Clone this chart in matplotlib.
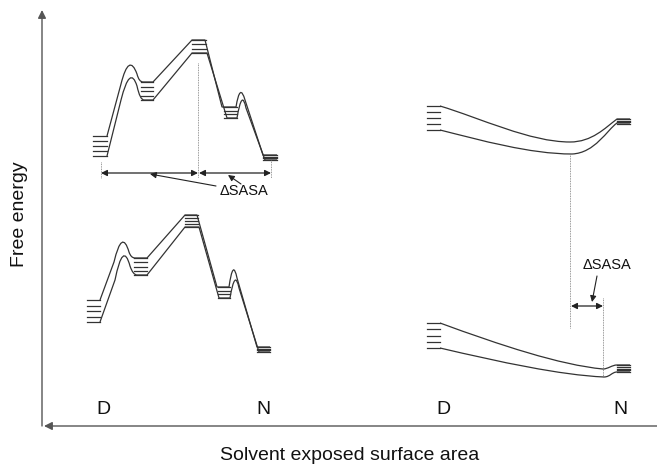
import matplotlib.pyplot as plt
from matplotlib.path import Path
from matplotlib.patches import PathPatch

plt.rcParams['font.family'] = ['Liberation Sans', 'DejaVu Sans']

# energy profiles, all in picture pixel units (x right, y down)
# each entry: code, x, y   ('M' move, 'L' line, 'Q' quad ctrl+end, 'C' cubic)
tl_upper = [('M', 107, 136), ('L', 121, 84), ('Q', 129, 52), ('Q', 137, 74),
            ('Q', 139, 82), ('Q', 143, 82), ('L', 153, 82), ('L', 192, 40),
            ('L', 205, 40), ('L', 222, 107), ('L', 236, 107), ('Q', 240, 82),
            ('Q', 245, 100), ('L', 263, 155), ('L', 277, 155)]
tl_lower = [('M', 107, 156), ('L', 121, 100), ('Q', 130, 64), ('Q', 137, 86),
            ('Q', 140, 100), ('Q', 144, 100), ('L', 153, 100), ('L', 192, 53),
            ('L', 207, 53), ('L', 227, 118), ('L', 237, 118), ('Q', 242, 88),
            ('Q', 246, 108), ('L', 265, 160), ('L', 277, 160)]

bl_upper = [('M', 100, 300), ('L', 114, 262), ('Q', 122, 228), ('Q', 129, 252),
            ('Q', 131, 258), ('Q', 135, 258), ('L', 147, 258), ('L', 185, 215),
            ('L', 197, 215), ('L', 217, 287), ('L', 229, 287), ('Q', 233, 258),
            ('Q', 237, 278), ('L', 257, 347), ('L', 270, 347)]
bl_lower = [('M', 100, 322), ('L', 115, 280), ('Q', 123, 240), ('Q', 130, 266),
            ('Q', 133, 275), ('Q', 137, 275), ('L', 147, 275), ('L', 185, 227),
            ('L', 199, 227), ('L', 219, 298), ('L', 230, 298), ('Q', 235, 268),
            ('Q', 239, 288), ('L', 259, 352), ('L', 270, 352)]

tr_upper = [('M', 440, 106), ('C', 480, 118), ('C', 530, 142), ('C', 570, 142),
            ('C', 592, 142), ('C', 605, 128), ('C', 617, 119), ('L', 630, 119)]
tr_lower = [('M', 440, 130), ('C', 480, 140), ('C', 530, 154), ('C', 572, 154),
            ('C', 595, 153), ('C', 607, 130), ('C', 617, 123), ('L', 630, 123)]

br_upper = [('M', 440, 323), ('C', 500, 345), ('C', 560, 365), ('C', 603, 369),
            ('C', 608, 369), ('C', 612, 365), ('C', 617, 365), ('L', 630, 365)]
br_lower = [('M', 440, 348), ('C', 500, 362), ('C', 560, 375), ('C', 604, 377),
            ('C', 610, 377), ('C', 612, 372), ('C', 617, 372), ('L', 630, 372)]

# horizontal level lines: x0, x1, y_top, y_bottom, count
levels = [
    (93, 107, 136, 156, 5), (141, 153, 82, 100, 5), (192, 206, 40, 53, 4),
    (224, 237, 107, 118, 4), (263, 277, 155, 160, 4),
    (87, 100, 300, 322, 5), (134, 147, 258, 275, 5), (185, 198, 215, 227, 5),
    (218, 230, 287, 298, 4), (257, 270, 347, 352, 4),
    (427, 440, 106, 130, 5), (617, 630, 119, 124, 4),
    (427, 440, 323, 348, 5), (617, 630, 365, 372, 5),
]

# dotted guide lines: x, y0, y1
guides = [(198, 63, 178), (101, 162, 178), (271, 160, 178),
          (570, 154, 328), (603, 298, 377)]

# double headed dSASA arrows: x0, x1, y
spans = [(101, 198, 173), (199, 271, 173), (571, 603, 306)]
# pointers from label to arrow: x0, y0, x1, y1
pointers = [(216, 186, 150, 174), (241, 184, 228, 175), (597, 276, 592, 302)]
sasa_labels = [(220, 191), (583, 265)]

states = ['D', 'N', 'D', 'N']
state_x = [103, 263, 443, 620]

codes_map = {'M': Path.MOVETO, 'L': Path.LINETO, 'Q': Path.CURVE3, 'C': Path.CURVE4}

fig = plt.figure(figsize=(6.57, 4.72), dpi=100)
ax = fig.add_axes([0, 0, 1, 1])
ax.set_xlim(0, 657)
ax.set_ylim(472, 0)
ax.axis('off')

for prof in [tl_upper, tl_lower, bl_upper, bl_lower, tr_upper, tr_lower, br_upper, br_lower]:
    verts = [(p[1], p[2]) for p in prof]
    codes = [codes_map[p[0]] for p in prof]
    ax.add_patch(PathPatch(Path(verts, codes), fill=False, ec='#333333', lw=0.9))

for x0, x1, ya, yb, n in levels:
    for i in range(n):
        y = ya + (yb - ya) * i / (n - 1)
        ax.plot([x0, x1], [y, y], color='#333333', lw=0.9)

for x, y0, y1 in guides:
    ax.plot([x, x], [y0, y1], color='#777777', lw=0.6, ls=(0, (1, 1)))

for x0, x1, y in spans:
    ax.annotate('', xy=(x0, y), xytext=(x1, y),
                arrowprops=dict(arrowstyle='<|-|>', color='#222222', lw=0.9,
                                mutation_scale=9, shrinkA=0, shrinkB=0))

for x0, y0, x1, y1 in pointers:
    ax.annotate('', xy=(x1, y1), xytext=(x0, y0),
                arrowprops=dict(arrowstyle='-|>', color='#222222', lw=0.8,
                                mutation_scale=9, shrinkA=0, shrinkB=0))

for x, y in sasa_labels:
    ax.text(x, y, 'ΔSASA', fontsize=10.5, ha='left', va='center', color='#111111')

for s, x in zip(states, state_x):
    ax.text(x, 410, s, fontsize=14, ha='center', va='center', color='#111111')

# axes with arrow heads
ax.annotate('', xy=(42, 10), xytext=(42, 426),
            arrowprops=dict(arrowstyle='-|>', color='#555555', lw=1.0,
                            mutation_scale=12, shrinkA=0, shrinkB=0))
ax.annotate('', xy=(44, 426), xytext=(657, 426),
            arrowprops=dict(arrowstyle='-|>', color='#555555', lw=1.0,
                            mutation_scale=12, shrinkA=0, shrinkB=0))

ax.text(20, 214, 'Free energy', fontsize=14, rotation=90, ha='center', va='center', color='#111111')
ax.text(350, 456, 'Solvent exposed surface area', fontsize=14, ha='center', va='center', color='#111111')

fig.savefig('out.png', dpi=100)
